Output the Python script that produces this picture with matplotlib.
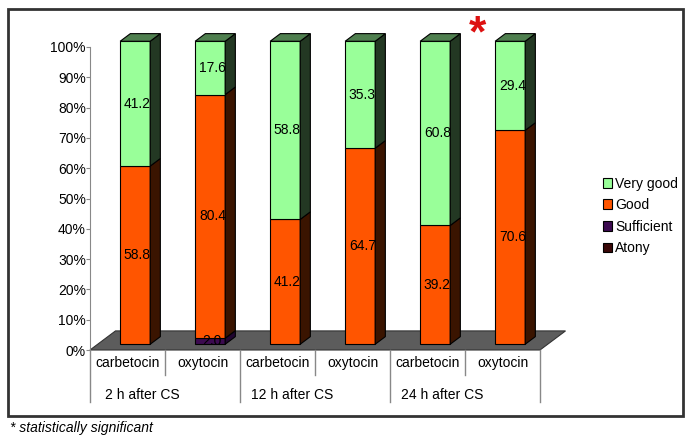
import matplotlib.pyplot as plt
from matplotlib.patches import Polygon, Rectangle

plt.rcParams['font.family'] = ['Liberation Sans', 'DejaVu Sans']

drugs = ['carbetocin', 'oxytocin', 'carbetocin', 'oxytocin', 'carbetocin', 'oxytocin']
groups = ['2 h after CS', '12 h after CS', '24 h after CS']
atony = [0, 0, 0, 0, 0, 0]
sufficient = [0, 2.0, 0, 0, 0, 0]
good = [58.8, 80.4, 41.2, 64.7, 39.2, 70.6]
very_good = [41.2, 17.6, 58.8, 35.3, 60.8, 29.4]

series = [('Atony', atony, '#3a0808', '#1e0404'),
          ('Sufficient', sufficient, '#3c0a50', '#200530'),
          ('Good', good, '#ff5500', '#3a1400'),
          ('Very good', very_good, '#99ff99', '#233823')]
top_col = {'Very good': '#4f7f4f', 'Good': '#7a2a00', 'Sufficient': '#2a0838', 'Atony': '#2a0606'}

W, H = 692, 445
fig = plt.figure(figsize=(W / 100, H / 100), dpi=100)
ax = fig.add_axes([90 / W, (H - 350) / H, 450 / W, 303 / H])
ax.set_xlim(0, 6)
ax.set_ylim(0, 100)

# 3d depth (floor) in data units
ddx, ddy = 0.34, 6.3
fx, fy = 0.3 * ddx, 0.3 * ddy      # front face offset
sx, sy = 0.4 * ddx, 0.4 * ddy      # bar depth
bw = 0.4

floor = Polygon([(0, 0), (6, 0), (6 + ddx, ddy), (ddx, ddy)], closed=True,
                facecolor='#5c5c5c', edgecolor='#333333', lw=0.8, clip_on=False, zorder=1)
ax.add_patch(floor)

for i in range(len(drugs)):
    left = i + 0.5 - bw / 2 + fx
    base = fy
    last = None
    for name, vals, col, side in series:
        v = vals[i]
        if v <= 0:
            continue
        ax.bar(left, v, width=bw, bottom=base, align='edge', color=col,
               edgecolor='black', lw=0.8, clip_on=False, zorder=3)
        r = left + bw
        ax.add_patch(Polygon([(r, base), (r + sx, base + sy), (r + sx, base + v + sy), (r, base + v)],
                             closed=True, facecolor=side, edgecolor='black', lw=0.8,
                             clip_on=False, zorder=3))
        ax.text(left + bw / 2 + 0.03, base + v / 2, f'{v:.1f}', ha='center', va='center',
                fontsize=10, color='black', zorder=5, clip_on=False)
        base += v
        last = name
    ax.add_patch(Polygon([(left, base), (left + bw, base), (left + bw + sx, base + sy), (left + sx, base + sy)],
                         closed=True, facecolor=top_col[last], edgecolor='black', lw=0.8,
                         clip_on=False, zorder=3))

# axes styling
for s in ['top', 'right', 'bottom']:
    ax.spines[s].set_visible(False)
ax.spines['left'].set_color('#888888')
ax.set_yticks(range(0, 101, 10))
ax.set_yticklabels([f'{t}%' for t in range(0, 101, 10)], fontsize=10)
ax.tick_params(axis='y', length=3, color='#888888', pad=0)
ax.set_xticks([])

# category table below the floor
tr = ax.get_xaxis_transform()
for k in range(7):
    y_end = -0.172 if k % 2 == 0 else -0.083
    ax.plot([k, k], [0, y_end], transform=tr, color='#888888', lw=1, clip_on=False)
for i, d in enumerate(drugs):
    ax.text(i + 0.5, -0.042, d, transform=tr, ha='center', va='center', fontsize=10)
for g, name in enumerate(groups):
    ax.text(2 * g + 0.7, -0.147, name, transform=tr, ha='center', va='center', fontsize=10)

# significance mark
ax.text(5.17, 104, '*', ha='center', va='center', fontsize=32, color='#dd1111',
        fontweight='bold', clip_on=False)

# legend
handles = [Rectangle((0, 0), 1, 1, facecolor=c, edgecolor='black', lw=0.8)
           for _, _, c, _ in series[::-1]]
labels = [n for n, _, _, _ in series[::-1]]
fig.legend(handles, labels, loc='center left', bbox_to_anchor=(590 / W, 1 - 216 / H),
           frameon=False, fontsize=10, handlelength=0.7, handleheight=0.7,
           handletextpad=0.2, labelspacing=0.55)

# outer frame and footnote
fig.patches.append(Rectangle((8 / W, 1 - 416 / H), 675 / W, 407 / H, transform=fig.transFigure,
                             fill=False, edgecolor='#333333', lw=2))
fig.text(10 / W, 1 - 428 / H, '* statistically significant', fontsize=10,
         style='italic', va='center', ha='left')

fig.savefig('out.png', dpi=100)
